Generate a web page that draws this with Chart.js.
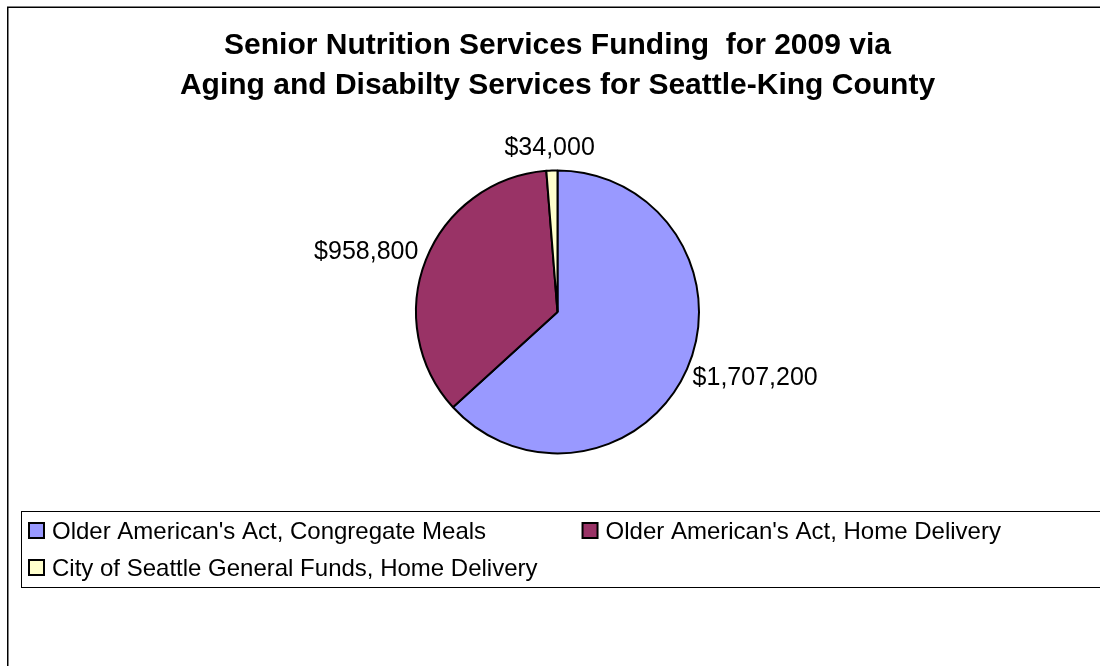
<!DOCTYPE html>
<html>
<head>
<meta charset="utf-8">
<script src="https://cdn.jsdelivr.net/npm/chart.js@4"></script>
<style>
  body { margin: 0; background: #fff; }
  canvas { display: block; }
</style>
</head>
<body>
<canvas id="chart" width="1100" height="666"></canvas>
<script>
// data
var labels = [
    "Older American's Act, Congregate Meals",
    "Older American's Act, Home Delivery",
    "City of Seattle General Funds, Home Delivery"
];
var values = [1707200, 958800, 34000];
var colors = ['#9999FF', '#993366', '#FFFFCC'];
var titleLines = [
    'Senior Nutrition Services Funding  for 2009 via',
    'Aging and Disabilty Services for Seattle-King County'
];

var FONT = '"Liberation Sans", Arial, sans-serif';

function money(v) {
    return '$' + v.toLocaleString('en-US');
}

// outer frame of the chart (right and bottom edges run off the picture)
var framePlugin = {
    id: 'frame',
    beforeDraw: function(chart) {
        var ctx = chart.ctx;
        ctx.save();
        ctx.strokeStyle = '#000';
        ctx.lineWidth = 1.5;
        ctx.strokeRect(7.75, 7.25, chart.width + 20, chart.height + 20);
        ctx.restore();
    }
};

// value labels just outside each slice
var valueLabels = {
    id: 'valueLabels',
    afterDatasetsDraw: function(chart) {
        var ctx = chart.ctx;
        var meta = chart.getDatasetMeta(0);
        ctx.save();
        ctx.font = '25px ' + FONT;
        ctx.fillStyle = '#000';
        ctx.textAlign = 'center';
        ctx.textBaseline = 'middle';
        meta.data.forEach(function(arc, i) {
            var p = arc.getProps(['x', 'y', 'startAngle', 'endAngle', 'outerRadius'], true);
            var mid = (p.startAngle + p.endAngle) / 2;
            var dx = Math.cos(mid), dy = Math.sin(mid);
            var text = money(chart.data.datasets[0].data[i]);
            var w = ctx.measureText(text).width;
            var h = 20;
            var d = p.outerRadius + 12;
            var x = p.x + dx * d + dx * w / 2;
            var y = p.y + dy * d + dy * h / 2;
            ctx.fillText(text, x, y);
        });
        ctx.restore();
    }
};

// boxed legend under the pie, two columns
var boxLegend = {
    id: 'boxLegend',
    afterDraw: function(chart) {
        var ctx = chart.ctx;
        var left = 21, top = 511, bottom = 587;
        var cols = 2, rowH = 37, firstRow = 531;
        ctx.save();
        ctx.strokeStyle = '#000';
        ctx.lineWidth = 1;
        ctx.strokeRect(left + 0.5, top + 0.5, chart.width, bottom - top);

        ctx.font = '24px ' + FONT;
        var names = chart.data.labels;
        var widest = 0;
        names.forEach(function(n) {
            widest = Math.max(widest, ctx.measureText(n).width);
        });
        var colW = widest + 23 + 45;
        var bg = chart.data.datasets[0].backgroundColor;
        ctx.textBaseline = 'middle';
        ctx.textAlign = 'left';
        names.forEach(function(n, i) {
            var c = i % cols, r = Math.floor(i / cols);
            var x = left + 8 + c * colW;
            var y = firstRow + r * rowH;
            ctx.fillStyle = bg[i];
            ctx.fillRect(x, y - 8, 15, 15);
            ctx.lineWidth = 2;
            ctx.strokeStyle = '#000';
            ctx.strokeRect(x, y - 8, 15, 15);
            ctx.fillStyle = '#000';
            ctx.fillText(n, x + 23, y + 1);
        });
        ctx.restore();
    }
};

var ctx = document.getElementById('chart').getContext('2d');
var myChart = new Chart(ctx, {
    type: 'pie',
    data: {
        labels: labels,
        datasets: [{
            data: values,
            backgroundColor: colors,
            borderColor: '#000',
            borderWidth: 2,
            hoverOffset: 0
        }]
    },
    options: {
        responsive: false,
        animation: false,
        devicePixelRatio: 1,
        radius: 141.5,
        layout: {
            padding: { top: 20, left: 15, right: 0, bottom: 148 }
        },
        plugins: {
            legend: { display: false },
            tooltip: { enabled: false },
            title: {
                display: true,
                text: titleLines,
                color: '#000',
                font: { family: FONT, size: 30, weight: 'bold', lineHeight: 1.33 },
                padding: { top: 6, bottom: 0 }
            }
        }
    },
    plugins: [framePlugin, valueLabels, boxLegend]
});
</script>
</body>
</html>
